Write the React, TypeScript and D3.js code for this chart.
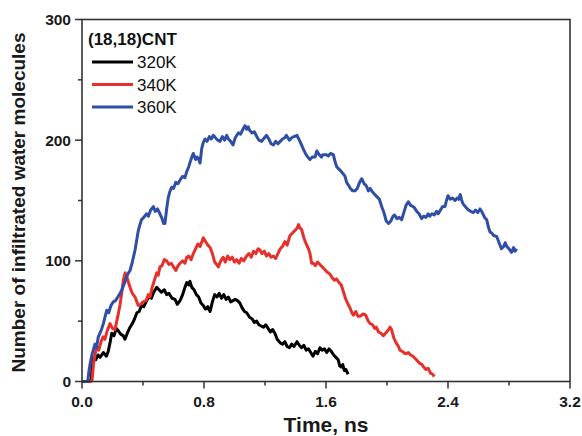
import React from "react";
import * as d3 from "d3";

// ---- data (time in ns, number of infiltrated water molecules) ----
const black320T = [0,0.050,0.062,0.066,0.074,0.09,0.105,0.118,0.14,0.16,0.172,0.185,0.195,0.21,0.225,0.238,0.255,0.27,0.282,0.30,0.315,0.33,0.345,0.36,0.375,0.39,0.405,0.424,0.44,0.455,0.47,0.49,0.505,0.52,0.54,0.555,0.57,0.59,0.61,0.625,0.643,0.66,0.675,0.687,0.70,0.708,0.72,0.735,0.75,0.765,0.78,0.795,0.81,0.825,0.84,0.855,0.87,0.885,0.90,0.915,0.93,0.945,0.96,0.975,0.99,1.005,1.02,1.035,1.05,1.065,1.08,1.10,1.115,1.13,1.145,1.16,1.175,1.19,1.205,1.22,1.235,1.25,1.265,1.28,1.30,1.315,1.33,1.345,1.36,1.375,1.39,1.41,1.425,1.44,1.455,1.47,1.485,1.50,1.515,1.53,1.545,1.56,1.575,1.59,1.605,1.62,1.635,1.65,1.665,1.68,1.69,1.70,1.71,1.72,1.73,1.745];
const black320V = [0,0,2,14,20,18,22,20,24,21,25,33,40,38,44,42,39,38,35,41,45,48,52,57,58,63,62,67,70,69,74,78,76,74,76,72,73,69,68,64,67,72,78,82,80,83,78,76,72,70,65,63,60,62,58,66,72,70,73,69,72,68,70,66,67,68,67,65,61,58,57,53,52,49,50,47,46,45,47,44,41,43,40,35,32,31,33,29,28,31,29,33,30,28,30,26,27,24,21,25,23,28,26,27,24,27,25,22,20,18,13,12,14,9,10,6];

const red340T = [0,0.058,0.066,0.075,0.085,0.096,0.11,0.125,0.138,0.15,0.165,0.184,0.20,0.216,0.228,0.238,0.25,0.26,0.271,0.283,0.293,0.305,0.315,0.33,0.348,0.36,0.369,0.385,0.40,0.42,0.435,0.446,0.46,0.475,0.49,0.50,0.511,0.525,0.54,0.555,0.57,0.585,0.60,0.615,0.63,0.643,0.66,0.675,0.687,0.70,0.715,0.73,0.745,0.76,0.775,0.795,0.81,0.825,0.84,0.855,0.87,0.883,0.894,0.91,0.925,0.94,0.955,0.97,0.985,1.00,1.014,1.03,1.045,1.06,1.08,1.095,1.11,1.125,1.14,1.155,1.167,1.18,1.195,1.21,1.225,1.24,1.255,1.27,1.285,1.30,1.315,1.33,1.345,1.364,1.38,1.395,1.41,1.42,1.43,1.44,1.455,1.47,1.485,1.495,1.506,1.517,1.53,1.545,1.56,1.575,1.59,1.605,1.626,1.64,1.655,1.67,1.685,1.70,1.715,1.73,1.745,1.757,1.77,1.78,1.795,1.81,1.823,1.845,1.86,1.877,1.89,1.905,1.92,1.93,1.945,1.96,1.976,1.99,2.005,2.02,2.03,2.045,2.06,2.075,2.085,2.10,2.12,2.14,2.155,2.17,2.185,2.20,2.215,2.23,2.24,2.255,2.27,2.285,2.30,2.31];
const red340V = [0,0,1,14,22,29,26,33,37,35,42,48,44,43,50,56,64,73,84,90,87,82,78,73,70,66,63,64,66,67,72,70,78,84,90,88,95,96,101,100,97,98,95,92,96,98,100,98,103,104,101,106,110,114,112,119,116,113,111,106,99,97,95,100,103,99,104,101,103,99,101,98,102,100,104,106,103,108,106,110,109,106,108,104,106,103,104,102,106,110,112,116,113,121,123,125,127,130,127,126,119,114,110,106,98,98,96,99,97,95,93,91,89,86,84,85,82,80,74,68,64,61,57,55,58,54,54,56,55,50,48,47,44,45,41,40,38,40,42,45,43,36,32,29,26,25,23,24,22,21,19,17,15,14,12,10,11,7,6,4];

const blue360T = [0,0.038,0.045,0.055,0.065,0.074,0.085,0.095,0.107,0.118,0.13,0.14,0.152,0.162,0.175,0.19,0.205,0.22,0.235,0.25,0.265,0.28,0.293,0.305,0.315,0.33,0.348,0.36,0.369,0.38,0.39,0.405,0.424,0.435,0.45,0.468,0.48,0.495,0.511,0.525,0.535,0.544,0.555,0.565,0.575,0.588,0.60,0.615,0.63,0.643,0.66,0.675,0.687,0.70,0.712,0.72,0.73,0.745,0.755,0.763,0.774,0.785,0.795,0.807,0.82,0.835,0.848,0.861,0.875,0.89,0.905,0.92,0.935,0.949,0.96,0.975,0.99,1.005,1.025,1.04,1.055,1.069,1.08,1.09,1.10,1.115,1.13,1.146,1.16,1.178,1.19,1.21,1.225,1.24,1.255,1.27,1.285,1.30,1.315,1.33,1.34,1.36,1.375,1.39,1.41,1.425,1.44,1.45,1.465,1.48,1.495,1.51,1.528,1.54,1.555,1.57,1.58,1.60,1.615,1.63,1.648,1.66,1.67,1.685,1.70,1.713,1.725,1.735,1.746,1.76,1.775,1.79,1.805,1.82,1.834,1.85,1.865,1.878,1.89,1.905,1.92,1.935,1.95,1.965,1.98,1.995,2.01,2.025,2.04,2.05,2.065,2.08,2.096,2.11,2.125,2.14,2.155,2.17,2.18,2.195,2.21,2.227,2.24,2.255,2.27,2.28,2.295,2.31,2.325,2.336,2.35,2.365,2.38,2.39,2.40,2.415,2.43,2.446,2.46,2.47,2.48,2.49,2.50,2.52,2.535,2.55,2.566,2.58,2.595,2.61,2.625,2.64,2.654,2.665,2.675,2.687,2.70,2.72,2.735,2.75,2.765,2.775,2.785,2.80,2.817,2.83,2.84,2.85];
const blue360V = [0,0,8,16,22,26,31,28,37,40,44,48,54,59,57,63,66,67,70,73,77,82,87,90,92,99,109,118,125,130,134,136,139,137,142,145,141,143,139,135,131,131,143,152,157,161,160,165,164,167,170,169,174,178,183,186,189,184,186,185,181,193,198,201,199,203,201,204,202,200,199,203,200,204,201,199,196,202,206,205,209,212,209,211,208,206,207,203,200,199,201,204,201,197,196,199,197,199,201,202,204,200,202,203,204,200,196,193,189,186,184,186,186,191,188,186,188,188,187,189,188,182,178,176,174,172,170,165,163,160,158,158,160,165,168,164,162,158,160,157,155,153,151,145,140,133,131,133,137,138,135,136,134,140,146,149,146,145,144,141,139,135,137,136,139,137,139,138,141,139,142,145,145,150,154,151,152,150,152,151,155,150,147,144,142,141,140,142,140,143,140,136,134,128,124,123,121,120,115,110,112,115,112,110,107,111,108,110];

const xTicks = [0, 0.8, 1.6, 2.4, 3.2];
const xMinor = [0.4, 1.2, 2.0, 2.8];
const yTicks = [0, 100, 200, 300];
const yMinor = [50, 150, 250];

const seriesNames = ["320K", "340K", "360K"];
const seriesColors = ["#000000", "#e8302a", "#2f4ea6"];
const legendTitle = "(18,18)CNT";
const xTitle = "Time, ns";
const yTitle = "Number of infiltrated water molecules";

export default function App() {
  const W = 582, H = 436;
  const left = 82, right = 570, top = 19.5, bottom = 381.5;
  const x = d3.scaleLinear().domain([0, 3.2]).range([left, right]);
  const y = d3.scaleLinear().domain([0, 300]).range([bottom, top]);
  const series = [
    { t: black320T, v: black320V },
    { t: red340T, v: red340V },
    { t: blue360T, v: blue360V },
  ];
  const line = d3.line<[number, number]>().x(d => x(d[0])).y(d => y(d[1]));
  const font = "'Liberation Sans', Arial, sans-serif";
  const axisColor = "#333";
  return (
    <svg width={W} height={H} style={{ position: "absolute", left: 0, top: 0, background: "#fff" }} fontFamily={font}>
      <rect x={0} y={0} width={W} height={H} fill="#fff" />
      {series.map((s, i) => (
        <path key={i} d={line(s.t.map((t, j) => [t, s.v[j]] as [number, number])) || ""}
          fill="none" stroke={seriesColors[i]} strokeWidth={3} strokeLinejoin="round" />
      ))}
      <rect x={left} y={top} width={right - left} height={bottom - top} fill="none" stroke={axisColor} strokeWidth={1.6} />
      {xTicks.map(t => (
        <g key={"x" + t}>
          <line x1={x(t)} x2={x(t)} y1={bottom} y2={bottom + 7} stroke={axisColor} strokeWidth={1.5} />
          <text x={x(t)} y={407} textAnchor="middle" fontSize={15.5} fontWeight="bold" fill="#1a1a1a">{t.toFixed(1)}</text>
        </g>
      ))}
      {xMinor.map(t => (
        <line key={"xm" + t} x1={x(t)} x2={x(t)} y1={bottom} y2={bottom + 4} stroke={axisColor} strokeWidth={1.5} />
      ))}
      {yTicks.map(v => (
        <g key={"y" + v}>
          <line x1={left - 7} x2={left} y1={y(v)} y2={y(v)} stroke={axisColor} strokeWidth={1.5} />
          <text x={71} y={y(v) + 5.5} textAnchor="end" fontSize={15.5} fontWeight="bold" fill="#1a1a1a">{v}</text>
        </g>
      ))}
      {yMinor.map(v => (
        <line key={"ym" + v} x1={left - 4} x2={left} y1={y(v)} y2={y(v)} stroke={axisColor} strokeWidth={1.5} />
      ))}
      <text x={(left + right) / 2} y={432} textAnchor="middle" fontSize={21} fontWeight="bold" fill="#1a1a1a">{xTitle}</text>
      <text transform={`translate(25,${(top + bottom) / 2 + 2}) rotate(-90)`} textAnchor="middle" fontSize={19} fontWeight="bold" fill="#1a1a1a">{yTitle}</text>
      <text x={88} y={45} fontSize={17} fontWeight="bold" fill="#111">{legendTitle}</text>
      {seriesNames.map((n, i) => (
        <g key={n}>
          <line x1={92} x2={133} y1={62 + i * 22.5} y2={62 + i * 22.5} stroke={seriesColors[i]} strokeWidth={2.8} />
          <text x={137} y={68 + i * 22.5} fontSize={17} fill="#111">{n}</text>
        </g>
      ))}
    </svg>
  );
}
